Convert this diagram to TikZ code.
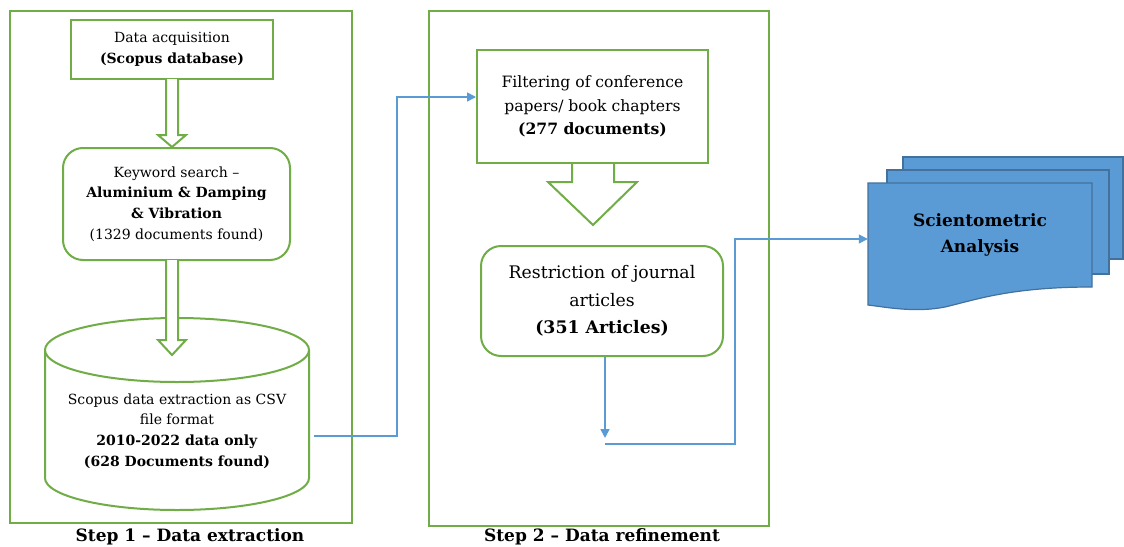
\documentclass[tikz,border=0pt]{standalone}
\usepackage{fontspec}
\setmainfont{DejaVu Serif}
\usetikzlibrary{arrows.meta}
\definecolor{grn}{HTML}{70AD47}
\definecolor{blu}{HTML}{5B9BD5}
\definecolor{bludk}{HTML}{41719C}
\tikzset{
  frame/.style={draw=grn,line width=2pt},
  gbox/.style={draw=grn,line width=2pt,fill=white,align=center,inner sep=0pt},
  hollow/.style={draw=grn,line width=2pt,fill=white,line join=miter},
  conn/.style={draw=blu,line width=1.6pt},
  arr/.style={conn,-{Triangle[length=9pt,width=9pt]}},
  doc/.style={draw=bludk,line width=1.2pt,fill=blu},
  f13/.style={font=\fontsize{14}{20.8}\selectfont},
  f15/.style={font=\fontsize{15.6}{23.5}\selectfont},
  f16/.style={font=\fontsize{17.3}{27.5}\selectfont},
  lab/.style={font=\fontsize{17}{20}\selectfont\bfseries},
}
\begin{document}
\begin{tikzpicture}[x=1pt,y=-1pt]
\useasboundingbox (0,0) rectangle (1124,546);
\fill[white] (0,0) rectangle (1124,546);
% frames
\draw[frame] (10,11) rectangle (352,523);
\draw[frame] (429,11) rectangle (769,526);
\node[lab] (l1) at (190,537) {Step 1 – Data extraction};
\node[lab] (l2) at (602,537) {Step 2 – Data refinement};
% step 1
\node[gbox,f13,minimum width=202pt,minimum height=59pt] (acq) at (172,49.5)
  {Data acquisition\\\textbf{(Scopus database)}};
\node[gbox,f13,rounded corners=20pt,minimum width=227pt,minimum height=112pt] (kw) at (176.5,204)
  {Keyword search –\\\textbf{Aluminium \& Damping}\\\textbf{\& Vibration}\\(1329 documents found)};
% cylinder
\draw[draw=grn,line width=2pt,fill=white] (45,350) -- (45,478)
  arc[start angle=180,end angle=360,x radius=132pt,y radius=32pt] -- (309,350);
\draw[draw=grn,line width=2pt,fill=white] (177,350) ellipse [x radius=132pt,y radius=32pt];
\node[f13,align=center,inner sep=0pt,minimum width=264pt] (cyl) at (177,431)
  {Scopus data extraction as CSV\\file format\\\textbf{2010-2022 data only}\\\textbf{(628 Documents found)}};
% hollow arrows
\draw[hollow] (166,79) -- (166,135) -- (158,135) -- (172,147) -- (186,135) -- (178,135) -- (178,79);
\draw[hollow] (166,260) -- (166,340) -- (158,340) -- (172,355) -- (186,340) -- (178,340) -- (178,260);
% step 2
\node[gbox,f15,minimum width=231pt,minimum height=113pt] (filt) at (592.5,106.5)
  {Filtering of conference\\papers/ book chapters\\\textbf{(277 documents)}};
\draw[hollow] (572,164) -- (572,182) -- (548,182) -- (593,225) -- (637,182) -- (614,182) -- (614,164);
\node[gbox,f16,rounded corners=20pt,minimum width=242pt,minimum height=110pt] (rest) at (602,301)
  {Restriction of journal\\articles\\\textbf{(351 Articles)}};
% scientometric document stack
\draw[doc] (903,157) rectangle (1123,259);
\draw[doc] (887,170) rectangle (1109,274);
\draw[doc] (868,183) -- (1092,183) -- (1092,287)
  .. controls (1010,287) and (975,300) .. (945,307)
  .. controls (915,313) and (885,307) .. (868,305) -- cycle;
\node[font=\fontsize{17}{26}\selectfont\bfseries,align=center,inner sep=0pt,minimum width=224pt] (sci) at (980,235)
  {Scientometric\\Analysis};
% connectors
\coordinate (c0) at (314,436);
\coordinate (c1) at (397,436);
\coordinate (c2) at (397,97);
\draw[arr] (c0) -- (c1) -- (c2) -- (c2 -| filt.west);
\coordinate (d1) at (605,438);
\draw[arr] (rest.south -| d1) -- (d1);
\coordinate (d2) at (605,444);
\coordinate (d3) at (735,444);
\coordinate (d4) at (735,239);
\draw[arr] (d2) -- (d3) -- (d4) -- (d4 -| sci.west);
\end{tikzpicture}
\end{document}
